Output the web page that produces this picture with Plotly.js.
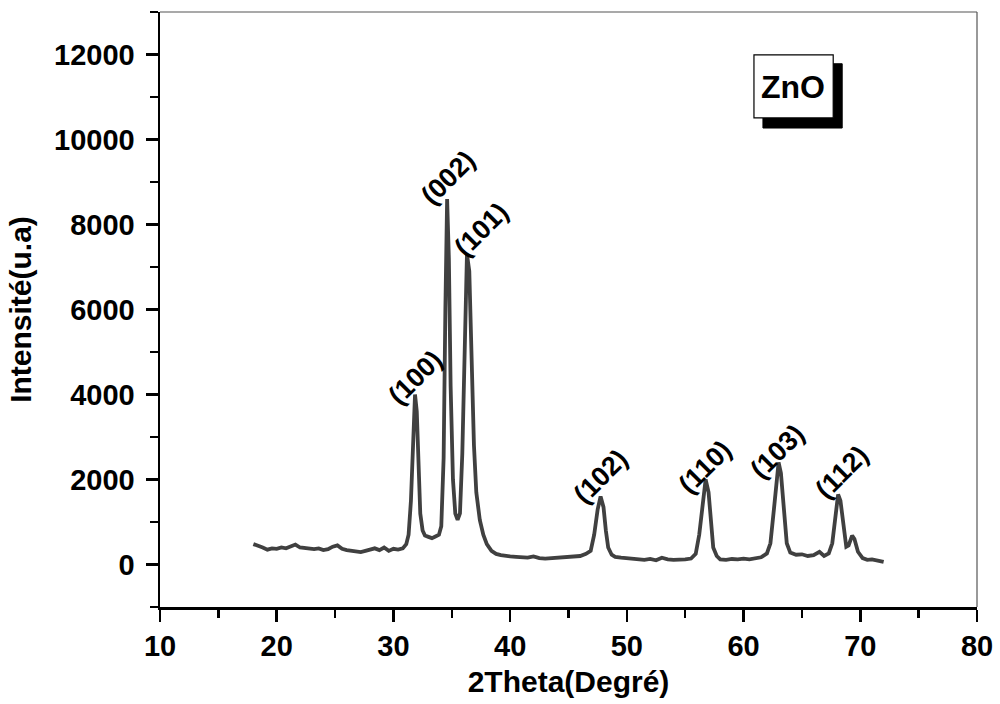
<!DOCTYPE html>
<html>
<head>
<meta charset="utf-8">
<script src="https://cdn.plot.ly/plotly-3.0.1.min.js"></script>
<style>html,body{margin:0;padding:0;background:#fff;}#chart{width:1000px;height:704px;}</style>
</head>
<body>
<div id="chart"></div>
<script>
const twoTheta = [18.0,18.4,18.8,19.2,19.6,20.0,20.4,20.8,21.2,21.6,22.0,22.4,22.8,23.2,23.6,24.0,24.4,24.8,25.2,25.6,26.0,26.4,26.8,27.2,27.6,28.0,28.4,28.8,29.2,29.6,30.0,30.4,30.8,31.1,31.3,31.5,31.7,31.85,32.0,32.15,32.3,32.5,32.7,33.0,33.3,33.6,33.9,34.1,34.3,34.45,34.6,34.75,34.9,35.1,35.3,35.5,35.7,35.9,36.1,36.3,36.5,36.7,36.9,37.1,37.4,37.7,38.0,38.4,38.8,39.2,39.6,40.0,40.5,41.0,41.5,42.0,42.5,43.0,43.5,44.0,44.5,45.0,45.5,46.0,46.5,46.9,47.2,47.5,47.75,48.0,48.2,48.4,48.7,49.0,49.5,50.0,50.5,51.0,51.5,52.0,52.5,53.0,53.5,54.0,54.5,55.0,55.5,55.9,56.2,56.5,56.75,57.0,57.2,57.4,57.7,58.0,58.5,59.0,59.5,60.0,60.5,61.0,61.5,62.0,62.3,62.6,62.85,63.0,63.2,63.45,63.7,64.0,64.5,65.0,65.5,66.0,66.5,66.9,67.3,67.6,67.9,68.1,68.3,68.55,68.8,69.0,69.3,69.5,69.8,70.2,70.6,71.0,71.5,72.0];
const intensity = [480,450,400,350,380,370,400,380,420,470,400,390,380,360,380,340,360,420,450,370,340,320,300,290,320,350,380,340,400,320,370,350,380,480,700,1500,3200,4000,3600,2200,1200,800,680,650,620,660,700,900,2500,6000,8600,7200,4200,2000,1200,1050,1200,2600,5200,7300,6900,4800,2800,1700,1050,700,480,320,250,220,200,190,180,170,160,190,150,140,150,160,170,160,170,200,250,320,700,1300,1600,1350,800,400,230,180,160,150,130,120,110,130,100,160,120,110,110,120,140,250,700,1500,2000,1700,900,400,200,120,110,130,120,140,120,150,170,260,500,1300,2100,2400,2150,1300,500,280,230,240,200,220,300,200,260,500,1300,1650,1500,900,420,450,680,600,300,150,110,120,90,60];

const peakLabels = ["(100)","(002)","(101)","(102)","(110)","(103)","(112)"];
const peakLabelX = [31.85,34.68,37.51,47.70,56.70,62.87,68.44];
const peakLabelY = [4390,9090,7870,2070,2300,2650,2180];

const sampleName = "ZnO";
const xTitle = "2Theta(Degré)";
const yTitle = "Intensité(u.a)";

const fam = 'Liberation Sans, Arial, sans-serif';
const annotations = peakLabels.map((t,i)=>({
  x: peakLabelX[i], y: peakLabelY[i], xref:'x', yref:'y',
  text: t, showarrow:false, textangle:-45,
  xanchor:'center', yanchor:'middle',
  font:{family:fam, size:27, color:'#000', weight:'bold'}
}));
annotations.push({
  x:0.775, y:0.874, xref:'paper', yref:'paper', text: sampleName, showarrow:false,
  xanchor:'center', yanchor:'middle',
  font:{family:fam, size:32, color:'#000', weight:'bold'}
});

const tickFont = {family:fam, size:29, color:'#000', weight:'bold'};
const titleFont = {family:fam, size:30, color:'#000', weight:'bold'};

const layout = {
  width:1000, height:704,
  margin:{l:160, r:23, t:12, b:97},
  paper_bgcolor:'#fff', plot_bgcolor:'#fff',
  showlegend:false,
  xaxis:{
    range:[10,80], tick0:10, dtick:10, ticks:'outside', ticklen:12, tickwidth:2.5, tickcolor:'#000',
    minor:{dtick:5, ticks:'outside', ticklen:8, tickwidth:2.5, tickcolor:'#000'},
    showline:true, linecolor:'#000', linewidth:2.5, showgrid:false, zeroline:false,
    tickfont:tickFont, tickformat:'d',
    title:{text:xTitle, font:titleFont, standoff:10}
  },
  yaxis:{
    range:[-1000,13000], tick0:0, dtick:2000, ticks:'outside', ticklen:12, tickwidth:2.5, tickcolor:'#000',
    minor:{dtick:1000, ticks:'outside', ticklen:8, tickwidth:2.5, tickcolor:'#000'},
    showline:true, linecolor:'#000', linewidth:2.5, showgrid:false, zeroline:false,
    tickfont:tickFont, tickformat:'d', ticklabelstandoff:5,
    title:{text:yTitle, font:titleFont, standoff:14}
  },
  shapes:[
    {type:'line', xref:'paper', yref:'paper', x0:0, x1:1, y0:1, y1:1, line:{color:'#555', width:1.2}},
    {type:'line', xref:'paper', yref:'paper', x0:1, x1:1, y0:0, y1:1, line:{color:'#555', width:1.2}},
    {type:'rect', xref:'paper', yref:'paper', x0:0.738, x1:0.835, y0:0.805, y1:0.913, fillcolor:'#000', line:{color:'#000', width:1}},
    {type:'rect', xref:'paper', yref:'paper', x0:0.727, x1:0.824, y0:0.822, y1:0.928, fillcolor:'#fff', line:{color:'#000', width:1.2}}
  ],
  annotations: annotations
};

Plotly.newPlot('chart', [{
  x: twoTheta, y: intensity, type:'scatter', mode:'lines',
  line:{color:'#404040', width:3.8}, hoverinfo:'skip'
}], layout, {displayModeBar:false, staticPlot:true});
</script>
</body>
</html>
